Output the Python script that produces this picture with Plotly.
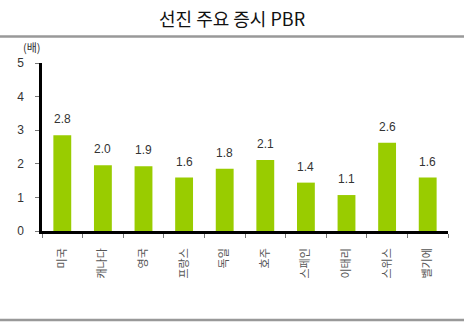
import plotly.graph_objects as go

countries = ["미국", "캐나다", "영국", "프랑스", "독일", "호주", "스페인", "이태리", "스위스", "벨기에"]
pbr = [2.85, 1.96, 1.93, 1.59, 1.85, 2.11, 1.44, 1.07, 2.63, 1.59]
pbr_labels = ["2.8", "2.0", "1.9", "1.6", "1.8", "2.1", "1.4", "1.1", "2.6", "1.6"]
y_ticks = [0, 1, 2, 3, 4, 5]

KR = "Noto Sans CJK KR"
NUM = "Liberation Sans, Arial"

W, H = 464, 326
ML, MR, MT, MB = 42, 16, 63, 95
plot_h = H - MT - MB
plot_w = W - ML - MR


def py(pix):
    return (H - MB - pix) / plot_h


def px(pix):
    return (pix - ML) / plot_w


fig = go.Figure()
fig.add_trace(go.Bar(
    x=countries, y=pbr, width=0.44,
    marker=dict(color="#99CC00", line=dict(width=0)),
    hoverinfo="skip",
))

for c, v, t in zip(countries, pbr, pbr_labels):
    fig.add_annotation(x=c, y=v, text=t, showarrow=False, yanchor="bottom",
                       yshift=7, font=dict(family=NUM, size=12, color="#333333"))

fig.add_annotation(xref="paper", yref="paper", x=0.5 * (px(0) + px(W)), y=py(18),
                   text="선진 주요 증시 PBR", showarrow=False, yanchor="middle",
                   font=dict(family=KR, size=18, color="#111111"))
fig.add_annotation(xref="paper", yref="paper", x=px(21), y=py(47),
                   text="(배)", showarrow=False, xanchor="left", yanchor="middle",
                   font=dict(family=KR, size=11, color="#333333"))

fig.add_shape(type="line", xref="paper", yref="paper", x0=px(0), x1=px(W),
              y0=py(36.5), y1=py(36.5), line=dict(color="#999999", width=2.5))
fig.add_shape(type="line", xref="paper", yref="paper", x0=px(0), x1=px(W),
              y0=py(320), y1=py(320), line=dict(color="#999999", width=2.5))

fig.update_layout(
    width=W, height=H,
    margin=dict(l=ML, r=MR, t=MT, b=MB),
    paper_bgcolor="white", plot_bgcolor="white",
    showlegend=False,
    xaxis=dict(
        showline=True, linecolor="black", linewidth=2.5,
        ticks="outside", tickson="boundaries", ticklen=4, tickcolor="#777777", tickwidth=1,
        tickangle=-90, tickfont=dict(family=KR, size=11, color="#555555"),
        ticklabelstandoff=10, showgrid=False, fixedrange=True,
    ),
    yaxis=dict(
        range=[0, 5], tickvals=y_ticks, showline=True, linecolor="black", linewidth=2.5,
        ticks="outside", ticklen=4, tickcolor="#777777", tickwidth=1,
        tickfont=dict(family=NUM, size=12, color="#333333"),
        ticklabelstandoff=9, showgrid=False, zeroline=False, fixedrange=True,
    ),
)

fig.write_html("out.html")
